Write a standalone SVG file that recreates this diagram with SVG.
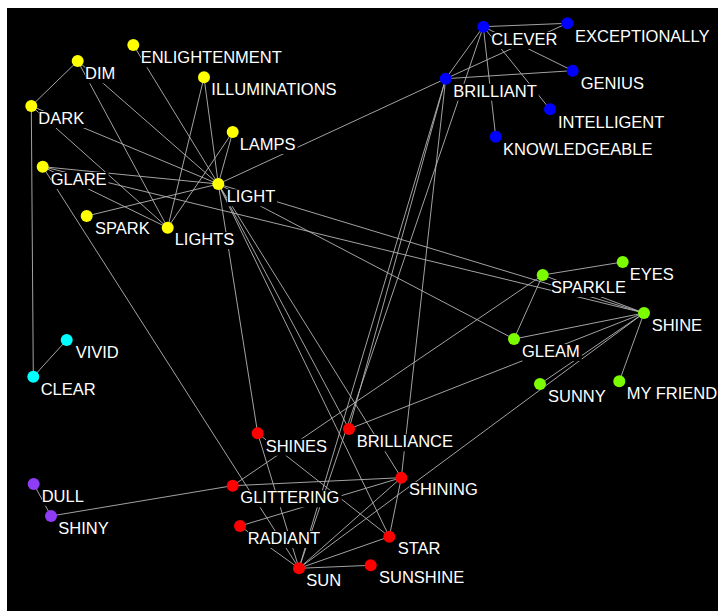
<svg xmlns="http://www.w3.org/2000/svg" width="718" height="611" viewBox="0 0 718 611">
<style>
.e{stroke:#b4b4b4;stroke-width:0.9;fill:none}
.lb{fill:#000}
.t{fill:#fff;font-family:"Liberation Sans",Arial,sans-serif;font-size:16.5px}
.y{fill:#ffff00}.b{fill:#0000ff}.g{fill:#7cfc00}.c{fill:#00ffff}.r{fill:#ff0000}.p{fill:#8f3cf5}
</style>
<rect x="0" y="0" width="718" height="611" fill="#fff"/>
<rect x="7" y="8" width="711" height="603" fill="#000"/>
<g id="edges" class="e">
<line x1="77.7" y1="61" x2="31.3" y2="106"/>
<line x1="31.3" y1="106" x2="33.3" y2="376.7"/>
<line x1="33.3" y1="376.7" x2="66.7" y2="340"/>
<line x1="133.3" y1="45" x2="218.3" y2="184"/>
<line x1="77.7" y1="61" x2="218.3" y2="184"/>
<line x1="77.7" y1="61" x2="167.7" y2="227.7"/>
<line x1="31.3" y1="106" x2="218.3" y2="184"/>
<line x1="31.3" y1="106" x2="167.7" y2="227.7"/>
<line x1="204" y1="77.3" x2="218.3" y2="184"/>
<line x1="204" y1="77.3" x2="167.7" y2="227.7"/>
<line x1="232.7" y1="132" x2="218.3" y2="184"/>
<line x1="232.7" y1="132" x2="167.7" y2="227.7"/>
<line x1="42.7" y1="166.7" x2="218.3" y2="184"/>
<line x1="42.7" y1="166.7" x2="167.7" y2="227.7"/>
<line x1="86.7" y1="216" x2="218.3" y2="184"/>
<line x1="42.7" y1="166.7" x2="644" y2="313"/>
<line x1="42.7" y1="166.7" x2="299" y2="568.3"/>
<line x1="218.3" y1="184" x2="445.7" y2="78.7"/>
<line x1="218.3" y1="184" x2="644" y2="313"/>
<line x1="218.3" y1="184" x2="514" y2="339"/>
<line x1="218.3" y1="184" x2="257.7" y2="433.3"/>
<line x1="218.3" y1="184" x2="389.3" y2="536.7"/>
<line x1="218.3" y1="184" x2="349" y2="429"/>
<line x1="218.3" y1="184" x2="401.3" y2="477.7"/>
<line x1="483.3" y1="26.7" x2="567.3" y2="23.3"/>
<line x1="483.3" y1="26.7" x2="445.7" y2="78.7"/>
<line x1="483.3" y1="26.7" x2="572.7" y2="70.7"/>
<line x1="483.3" y1="26.7" x2="550" y2="109.3"/>
<line x1="483.3" y1="26.7" x2="495.7" y2="136.7"/>
<line x1="445.7" y1="78.7" x2="572.7" y2="70.7"/>
<line x1="445.7" y1="78.7" x2="567.3" y2="23.3"/>
<line x1="483.3" y1="26.7" x2="299" y2="568.3"/>
<line x1="445.7" y1="78.7" x2="299" y2="568.3"/>
<line x1="445.7" y1="78.7" x2="349" y2="429"/>
<line x1="445.7" y1="78.7" x2="401.3" y2="477.7"/>
<line x1="542.7" y1="275" x2="622.7" y2="262"/>
<line x1="542.7" y1="275" x2="514" y2="339"/>
<line x1="542.7" y1="275" x2="644" y2="313"/>
<line x1="542.7" y1="275" x2="232.7" y2="485.7"/>
<line x1="514" y1="339" x2="644" y2="313"/>
<line x1="644" y1="313" x2="619.3" y2="381.3"/>
<line x1="644" y1="313" x2="540" y2="384"/>
<line x1="644" y1="313" x2="299" y2="568.3"/>
<line x1="644" y1="313" x2="349" y2="429"/>
<line x1="257.7" y1="433.3" x2="389.3" y2="536.7"/>
<line x1="257.7" y1="433.3" x2="299" y2="568.3"/>
<line x1="232.7" y1="485.7" x2="401.3" y2="477.7"/>
<line x1="51" y1="516" x2="232.7" y2="485.7"/>
<line x1="33.7" y1="484" x2="51" y2="516"/>
<line x1="240" y1="526" x2="401.3" y2="477.7"/>
<line x1="240" y1="526" x2="299" y2="568.3"/>
<line x1="299" y1="568.3" x2="401.3" y2="477.7"/>
<line x1="299" y1="568.3" x2="389.3" y2="536.7"/>
<line x1="299" y1="568.3" x2="370.7" y2="565.3"/>
<line x1="401.3" y1="477.7" x2="389.3" y2="536.7"/>
</g>
<g id="n-enlightenment"><circle class="y" cx="133.3" cy="45" r="6"/><rect class="lb" x="141" y="50.3" width="143" height="17"/><text class="t" x="140.7" y="63.3">ENLIGHTENMENT</text></g>
<g id="n-dim"><circle class="y" cx="77.7" cy="61" r="6"/><rect class="lb" x="85.3" y="66.3" width="32" height="17"/><text class="t" x="85" y="79.3">DIM</text></g>
<g id="n-illuminations"><circle class="y" cx="204" cy="77.3" r="6"/><rect class="lb" x="211.6" y="82" width="128" height="17"/><text class="t" x="211.3" y="95">ILLUMINATIONS</text></g>
<g id="n-dark"><circle class="y" cx="31.3" cy="106" r="6"/><rect class="lb" x="38.6" y="111" width="47.5" height="17"/><text class="t" x="38.3" y="124">DARK</text></g>
<g id="n-lamps"><circle class="y" cx="232.7" cy="132" r="6"/><rect class="lb" x="240" y="137" width="57.5" height="17"/><text class="t" x="239.7" y="150">LAMPS</text></g>
<g id="n-glare"><circle class="y" cx="42.7" cy="166.7" r="6"/><rect class="lb" x="51" y="172" width="57.5" height="17"/><text class="t" x="50.7" y="185">GLARE</text></g>
<g id="n-light"><circle class="y" cx="218.3" cy="184" r="6"/><rect class="lb" x="227" y="189.3" width="50" height="17"/><text class="t" x="226.7" y="202.3">LIGHT</text></g>
<g id="n-spark"><circle class="y" cx="86.7" cy="216" r="6"/><rect class="lb" x="95.3" y="221.3" width="57.5" height="17"/><text class="t" x="95" y="234.3">SPARK</text></g>
<g id="n-lights"><circle class="y" cx="167.7" cy="227.7" r="6"/><rect class="lb" x="175" y="232" width="61" height="17"/><text class="t" x="174.7" y="245">LIGHTS</text></g>
<g id="n-clever"><circle class="b" cx="483.3" cy="26.7" r="6"/><rect class="lb" x="491.6" y="32" width="67.5" height="17"/><text class="t" x="491.3" y="45">CLEVER</text></g>
<g id="n-exceptionally"><circle class="b" cx="567.3" cy="23.3" r="6"/><rect class="lb" x="575.3" y="28.7" width="137" height="17"/><text class="t" x="575" y="41.7">EXCEPTIONALLY</text></g>
<g id="n-genius"><circle class="b" cx="572.7" cy="70.7" r="6"/><rect class="lb" x="581" y="76" width="65" height="17"/><text class="t" x="580.7" y="89">GENIUS</text></g>
<g id="n-brilliant"><circle class="b" cx="445.7" cy="78.7" r="6"/><rect class="lb" x="453.6" y="83.7" width="85" height="17"/><text class="t" x="453.3" y="96.7">BRILLIANT</text></g>
<g id="n-intelligent"><circle class="b" cx="550" cy="109.3" r="6"/><rect class="lb" x="558.3" y="114.7" width="108" height="17"/><text class="t" x="558" y="127.7">INTELLIGENT</text></g>
<g id="n-knowledgeable"><circle class="b" cx="495.7" cy="136.7" r="6"/><rect class="lb" x="503.3" y="142" width="151" height="17"/><text class="t" x="503" y="155">KNOWLEDGEABLE</text></g>
<g id="n-eyes"><circle class="g" cx="622.7" cy="262" r="6"/><rect class="lb" x="630" y="267" width="45.5" height="17"/><text class="t" x="629.7" y="280">EYES</text></g>
<g id="n-sparkle"><circle class="g" cx="542.7" cy="275" r="6"/><rect class="lb" x="551.3" y="280" width="77.5" height="17"/><text class="t" x="551" y="293">SPARKLE</text></g>
<g id="n-shine"><circle class="g" cx="644" cy="313" r="6"/><rect class="lb" x="652" y="318" width="52" height="17"/><text class="t" x="651.7" y="331">SHINE</text></g>
<g id="n-gleam"><circle class="g" cx="514" cy="339" r="6"/><rect class="lb" x="522.3" y="344" width="59.5" height="17"/><text class="t" x="522" y="357">GLEAM</text></g>
<g id="n-sunny"><circle class="g" cx="540" cy="384" r="6"/><rect class="lb" x="548.3" y="388.7" width="59.5" height="17"/><text class="t" x="548" y="401.7">SUNNY</text></g>
<g id="n-myfriend"><circle class="g" cx="619.3" cy="381.3" r="6"/><rect class="lb" x="627" y="386" width="91" height="17"/><text class="t" x="626.7" y="399">MY FRIEND</text></g>
<g id="n-vivid"><circle class="c" cx="66.7" cy="340" r="6"/><rect class="lb" x="76" y="345.3" width="45" height="17"/><text class="t" x="75.7" y="358.3">VIVID</text></g>
<g id="n-clear"><circle class="c" cx="33.3" cy="376.7" r="6"/><rect class="lb" x="41" y="382" width="57" height="17"/><text class="t" x="40.7" y="395">CLEAR</text></g>
<g id="n-shines"><circle class="r" cx="257.7" cy="433.3" r="6"/><rect class="lb" x="266" y="438.7" width="63" height="17"/><text class="t" x="265.7" y="451.7">SHINES</text></g>
<g id="n-brilliance"><circle class="r" cx="349" cy="429" r="6"/><rect class="lb" x="357" y="434.3" width="98" height="17"/><text class="t" x="356.7" y="447.3">BRILLIANCE</text></g>
<g id="n-shining"><circle class="r" cx="401.3" cy="477.7" r="6"/><rect class="lb" x="409.3" y="482" width="70.5" height="17"/><text class="t" x="409" y="495">SHINING</text></g>
<g id="n-glittering"><circle class="r" cx="232.7" cy="485.7" r="6"/><rect class="lb" x="240.6" y="490.3" width="101" height="17"/><text class="t" x="240.3" y="503.3">GLITTERING</text></g>
<g id="n-dull"><circle class="p" cx="33.7" cy="484" r="6"/><rect class="lb" x="42" y="488.7" width="44" height="17"/><text class="t" x="41.7" y="501.7">DULL</text></g>
<g id="n-shiny"><circle class="p" cx="51" cy="516" r="6"/><rect class="lb" x="58.6" y="521" width="52" height="17"/><text class="t" x="58.3" y="534">SHINY</text></g>
<g id="n-radiant"><circle class="r" cx="240" cy="526" r="6"/><rect class="lb" x="248" y="531" width="74" height="17"/><text class="t" x="247.7" y="544">RADIANT</text></g>
<g id="n-star"><circle class="r" cx="389.3" cy="536.7" r="6"/><rect class="lb" x="398" y="541" width="45.5" height="17"/><text class="t" x="397.7" y="554">STAR</text></g>
<g id="n-sun"><circle class="r" cx="299" cy="568.3" r="6"/><rect class="lb" x="306.6" y="573" width="36.5" height="17"/><text class="t" x="306.3" y="586">SUN</text></g>
<g id="n-sunshine"><circle class="r" cx="370.7" cy="565.3" r="6"/><rect class="lb" x="379.3" y="570.3" width="87" height="17"/><text class="t" x="379" y="583.3">SUNSHINE</text></g>
</svg>
